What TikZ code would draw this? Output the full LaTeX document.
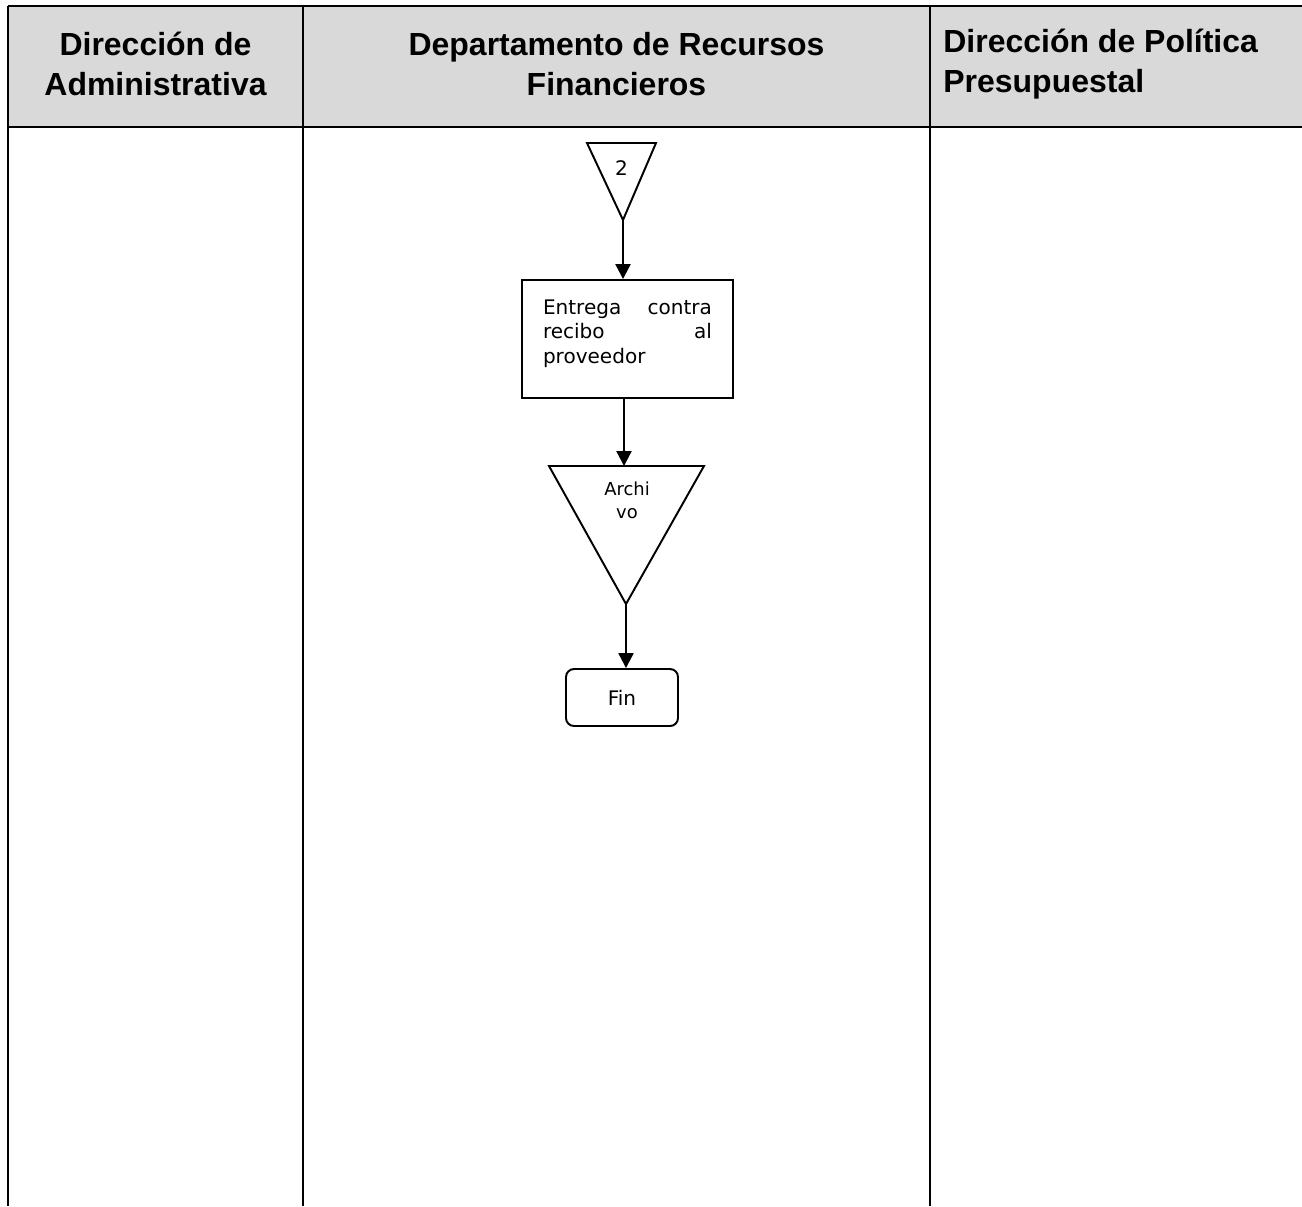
\documentclass[tikz,border=0pt]{standalone}
\usepackage{fontspec}
\setmainfont{Liberation Sans}
\newfontfamily\dejavu{DejaVu Sans}
\usetikzlibrary{arrows.meta,positioning}

\begin{document}
\begin{tikzpicture}[x=1cm, y=1cm,
  lane/.style={line width=1.1pt},
  head/.style={font=\fontsize{18.2}{22.8}\selectfont\bfseries, inner sep=0pt},
  box/.style={draw, line width=1.1pt, minimum width=4.22cm, minimum height=2.36cm},
  boxtext/.style={font=\dejavu\fontsize{11.4}{14.2}\selectfont, text width=3.38cm, inner sep=0pt, align=left},
  term/.style={draw, rounded corners=0.16cm, line width=1.1pt, font=\dejavu\fontsize{11.4}{13.9}\selectfont,
               minimum width=2.24cm, minimum height=1.14cm},
  tri/.style={draw, line width=1.1pt, line join=miter},
  tritext/.style={font=\dejavu\fontsize{10.2}{13.1}\selectfont, align=center, inner sep=0pt},
  arr/.style={-{Triangle[length=0.3cm, width=0.3cm]}, line width=1.3pt}
]
\useasboundingbox (0,0) rectangle (26.04,-24.12);
\fill[black!15] (0.16,-0.12) rectangle (26.04,-2.54);
\draw[lane] (0.16,-0.12) -- (26.04,-0.12);
\draw[lane] (0.16,-2.54) -- (26.04,-2.54);
\foreach \x in {0.16,6.06,18.6} \draw[lane] (\x,-0.12) -- (\x,-24.12);
\node[head, align=center] (dadm) at (3.11,-1.28) {Dirección de\\Administrativa};
\node[head, align=center] (drf) at (12.33,-1.28) {Departamento de Recursos\\Financieros};
\node[head, align=left, anchor=west] (dpp) at (18.86,-1.28) {Dirección de Política\\Presupuestal};
\draw[tri] (11.74,-2.86) -- (13.12,-2.86) -- (12.46,-4.40) coordinate (c2tip) -- cycle;
\node[tritext, font=\dejavu\fontsize{11.4}{13.9}\selectfont] (c2) at (12.43,-3.37) {2};
\node[box] (entrega) at (12.55,-6.78) {};
\node[boxtext, anchor=north, yshift=-0.4cm] (entregatxt) at (entrega.north) {Entrega\hfill contra\\recibo\hfill al\\proveedor};
\draw[tri] (10.98,-9.32) -- (14.08,-9.32) -- (12.52,-12.08) coordinate (archtip) -- cycle;
\coordinate (archtop) at (12.48,-9.32);
\node[tritext] (arch) at (12.54,-10.0) {Archi\\vo};
\node[term] (fin) at (12.44,-13.95) {Fin};
\draw[arr] (c2tip) -- (c2tip |- entrega.north);
\draw[arr] (archtop |- entrega.south) -- (archtop);
\draw[arr] (archtip) -- (archtip |- fin.north);
\end{tikzpicture}
\end{document}
